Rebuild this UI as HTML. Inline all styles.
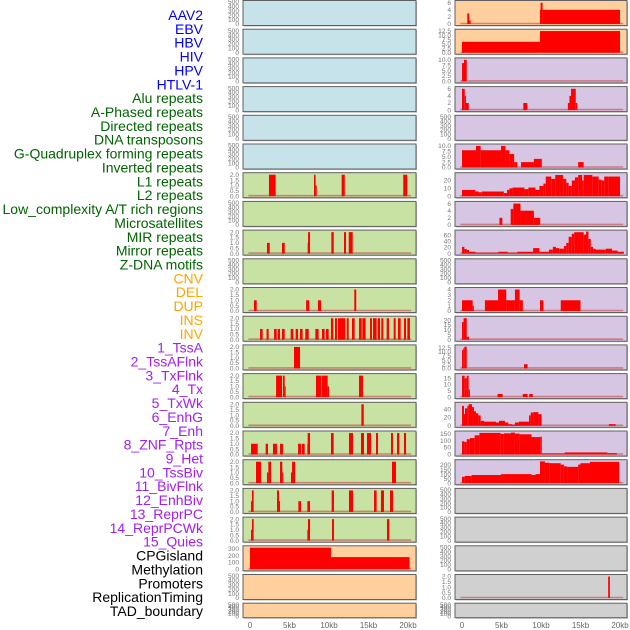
<!DOCTYPE html>
<html><head><meta charset="utf-8">
<style>
html,body{margin:0;padding:0;background:#fff;}
svg{display:block;font-family:"Liberation Sans",sans-serif;}
</style></head>
<body>
<svg id="chart" width="630" height="630" viewBox="0 0 630 630"></svg>
<script>
const trackLabels=["AAV2","EBV","HBV","HIV","HPV","HTLV-1","Alu repeats","A-Phased repeats","Directed repeats","DNA transposons","G-Quadruplex forming repeats","Inverted repeats","L1 repeats","L2 repeats","Low_complexity A/T rich regions","Microsatellites","MIR repeats","Mirror repeats","Z-DNA motifs","CNV","DEL","DUP","INS","INV","1_TssA","2_TssAFlnk","3_TxFlnk","4_Tx","5_TxWk","6_EnhG","7_Enh","8_ZNF_Rpts","9_Het","10_TssBiv","11_BivFlnk","12_EnhBiv","13_ReprPC","14_ReprPCWk","15_Quies","CPGisland","Methylation","Promoters","ReplicationTiming","TAD_boundary"];
const labelGroups=[6,13,5,15,5];
const groupColors=["#0000ff","#006400","#ffa500","#a020f0","#000000"];

const T500=["0","100","200","300","400","500"];
const T2=["0.0","0.5","1.0","1.5","2.0"];
const leftBg=["#c6e3ea","#c6e3ea","#c6e3ea","#c6e3ea","#c6e3ea","#c6e3ea","#c8e2a4","#c8e2a4","#c8e2a4","#c8e2a4","#c8e2a4","#c8e2a4","#c8e2a4","#c8e2a4","#c8e2a4","#c8e2a4","#c8e2a4","#c8e2a4","#c8e2a4","#ffd09e","#ffd09e","#ffd09e"];
const rightBg=["#ffd09e","#ffd09e","#d6c6e3","#d6c6e3","#d6c6e3","#d6c6e3","#d6c6e3","#d6c6e3","#d6c6e3","#d6c6e3","#d6c6e3","#d6c6e3","#d6c6e3","#d6c6e3","#d6c6e3","#d6c6e3","#d6c6e3","#d0d0d0","#d0d0d0","#d0d0d0","#d0d0d0","#d0d0d0"];
const leftYMax=[500,500,500,500,500,500,2.05,500,2.05,500,2.05,2.05,2.05,2.05,2.05,2.05,2.05,2.05,2.05,325,500,500];
const leftTicks=[T500,T500,T500,T500,T500,T500,T2,T500,T2,T500,T2,T2,T2,T2,T2,T2,T2,T2,T2,["0","100","200","300"],T500,T500];
const rightYMax=[6.2,12.7,10.2,6.2,500,10.2,28,6.2,72,500,4.1,22.5,13.2,17.5,53,158,242,500,500,500,2.05,500];
const rightTicks=[["0","2","4","6"],["0.0","2.5","5.0","7.5","10.0","12.5"],["0.0","2.5","5.0","7.5","10.0"],["0","2","4","6"],T500,["0.0","2.5","5.0","7.5","10.0"],["0","10","20"],["0","2","4","6"],["0","20","40","60"],T500,["0","1","2","3","4"],["0","5","10","15","20"],["0.0","2.5","5.0","7.5","10.0","12.5"],["0","5","10","15"],["0","20","40"],["0","50","100","150"],["0","50","100","150","200"],T500,T500,T500,T2,T500];

// segments: [startKb, endKb, value]
const leftSeries=[[],[],[],[],[],[],
 [[2.4,3.25,2],[8.1,8.3,2],[8.3,8.45,1],[11.6,12.0,2],[19.4,19.9,2]],
 [],
 [[2.15,2.5,1],[4.05,4.4,1],[7.3,7.35,1],[7.35,7.6,2],[10.3,10.6,2],[11.9,12.15,2],[12.5,13.0,2]],
 [],
 [[0.5,0.85,1],[7.1,7.5,1],[8.6,9.0,1],[13.2,13.45,2]],
 [[1.27,1.6,1],[2.1,2.36,1],[3.04,3.38,1],[3.5,3.8,1],[4.05,4.39,1],[5.15,5.49,1],[5.78,6.08,1],[6.33,6.66,1],[7.0,7.43,1],[8.27,8.69,1],[9.11,9.45,1],[9.62,9.96,1],[10.25,10.55,2],[10.76,11.01,2],[11.14,12.07,2],[12.24,12.49,2],[12.91,13.25,2],[13.8,14.14,2],[14.22,14.64,2],[15.19,15.44,2],[15.57,16.03,2],[16.16,16.46,2],[16.62,16.88,2],[17.3,17.59,2],[18.19,18.44,2],[18.73,19.07,2],[19.49,19.75,2],[19.92,20.25,2]],
 [[5.57,6.33,2]],
 [[3.3,4.05,2],[4.17,4.39,2],[4.39,4.51,1],[8.35,9.0,2],[9.07,9.83,2],[9.83,10.0,1],[13.8,14.3,2]],
 [[14.1,14.4,2]],
 [[0.13,0.97,1],[1.98,2.28,1],[2.91,3.42,1],[3.8,4.17,1],[6.08,6.46,1],[6.58,6.92,1],[7.26,7.55,1],[7.3,7.6,2],[10.25,10.59,2],[12.53,13.04,2],[14.05,14.43,2],[14.81,15.32,2],[15.95,16.2,2],[17.85,18.1,2],[18.61,18.9,2],[19.49,19.75,2]],
 [[0.76,1.39,2],[2.15,2.32,1],[2.32,2.66,2],[3.8,4.09,2],[4.09,4.17,1],[5.19,5.32,1],[5.32,5.7,2],[17.97,18.48,2]],
 [[0.13,0.25,1],[0.25,0.46,2],[3.42,3.67,2],[3.67,3.8,1],[6.12,6.46,1],[7.26,7.6,1],[10.34,10.63,2],[12.53,13.04,2],[15.7,16.03,2],[16.58,16.96,2],[17.72,18.1,2]],
 [[0.13,0.25,1],[0.25,0.46,2],[7.26,7.34,1],[7.34,7.6,2],[10.38,10.63,2],[17.34,17.64,2]],
 [[0,10.25,320],[10.25,20.2,180]],
 [],[]];
const rightSeries=[
 [[0.67,0.92,3],[0.92,1.1,1],[9.87,9.95,4],[9.95,10.2,6],[10.2,20,4]],
 [[0,9.87,6.3],[9.87,20,12.5]],
 [[0,0.25,8.5],[0.25,0.6,10]],
 [[0,0.35,6],[0.35,0.5,4],[0.5,0.85,2],[7.76,8.27,2],[13.4,13.6,2],[13.6,13.8,4],[13.8,14.4,6],[14.4,14.6,2]],
 [],
 [[0,1.77,8],[1.77,2.36,10],[2.36,4.94,8],[4.94,5.5,10],[5.5,6.0,8],[6.0,6.6,6.3],[6.6,7.0,2.5],[7.47,9.1,2.5],[9.1,10.1,4],[14.7,15.4,2.5]],
 [[0,1.7,8],[1.7,2.1,6],[2.1,2.5,5],[2.5,5.3,6],[5.3,5.7,4],[5.7,6.0,8],[6.0,6.4,10],[6.4,7.9,11],[7.9,8.4,9],[8.4,9.3,11],[9.3,9.8,8],[9.8,10.3,13],[10.3,10.6,16],[10.6,11.3,25],[11.3,11.8,22],[11.8,12.8,27],[12.8,13.2,22],[13.2,13.5,17],[13.5,13.9,13],[13.9,14.3,20],[14.3,14.7,24],[14.7,15.2,27],[15.2,15.4,20],[15.4,16.5,27],[16.5,17.3,25],[17.3,17.7,21],[17.7,18.0,20],[18.0,18.5,25],[18.5,20.0,25]],
 [[4.74,5.1,2],[6.16,6.5,4.5],[6.5,7.4,6],[7.4,9.1,4],[9.1,9.9,2]],
 [[0,0.3,22],[0.3,0.6,15],[0.6,0.9,12],[0.9,1.7,6],[1.7,4.6,3],[4.6,5.8,6],[5.8,7.0,3],[7.0,9.0,6],[9.0,9.8,18],[9.8,11.0,6],[11.0,11.5,13],[11.5,11.9,22],[11.9,12.3,18],[12.3,12.9,16],[12.9,13.2,25],[13.2,13.5,35],[13.5,13.9,55],[13.9,14.2,65],[14.2,15.4,70],[15.4,15.7,62],[15.7,16.0,72],[16.0,16.3,48],[16.3,16.6,22],[16.6,16.9,16],[16.9,18.2,13],[18.2,19.0,16],[19.0,19.7,10],[19.7,20.5,6]],
 [],
 [[0,1.35,2],[1.35,1.5,1],[2.9,4.56,2],[4.56,5.6,4],[5.6,6.7,2],[6.7,7.3,4],[7.3,7.7,2],[9.87,10.3,2],[12.5,15.0,2]],
 [[0,0.2,18],[0.2,0.6,22],[0.6,0.9,3]],
 [[0,0.15,11],[0.15,0.3,12],[0.3,0.6,13],[7.85,8.3,2.5]],
 [[0,0.34,17],[0.34,0.6,15],[0.6,0.84,17],[0.84,1.0,6],[4.5,5.15,2.5],[7.7,8.3,2.5],[8.5,8.95,2.5]],
 [[0,0.25,48],[0.25,0.38,28],[0.38,0.68,42],[0.68,0.84,48],[0.84,1.27,52],[1.27,1.52,45],[1.52,1.77,35],[1.77,2.07,30],[2.07,2.36,25],[2.36,2.78,12],[2.78,4.3,10],[4.3,4.68,8],[4.68,5.44,12],[5.44,5.86,8],[5.86,6.33,4],[6.33,6.7,3],[6.7,7.2,8],[7.2,8.48,10],[8.48,8.7,25],[8.7,9.03,32],[9.03,9.66,33],[9.66,10.08,28],[18.6,19.45,4]],
 [[0,0.3,95],[0.3,0.6,90],[0.6,1.0,110],[1.0,1.6,118],[1.6,2.2,138],[2.2,4.9,155],[4.9,5.3,148],[5.3,6.2,152],[6.2,6.7,157],[6.7,7.3,150],[7.3,8.8,145],[8.8,9.9,125],[9.9,10.1,128],[10.1,13.0,8],[13.0,18.4,15],[18.4,19.6,10]],
 [[0,0.34,70],[0.34,1.22,80],[1.22,4.94,90],[4.94,8.8,100],[8.8,9.3,90],[9.3,9.87,100],[9.87,10.5,240],[10.5,11.1,225],[11.1,12.5,220],[12.5,12.9,205],[12.9,13.3,185],[13.3,14.7,180],[14.7,15.0,205],[15.0,16.2,220],[16.2,19.9,235]],
 [],[],[],
 [[18.5,18.72,2]],
 []];

const svg=document.getElementById('chart');
const NS='http://www.w3.org/2000/svg';
function mk(tag,attrs,parent){const e=document.createElementNS(NS,tag);for(const k in attrs)e.setAttribute(k,attrs[k]);(parent||svg).appendChild(e);return e;}
const PITCH=28.7, PX_PER_KB=7.9;
function panelGeom(i){const top=i*PITCH+0.5;const h=(i===21)?14.5:25;return {top,h};}

// labels
let li=0;
labelGroups.forEach((n,g)=>{for(let k=0;k<n;k++){const t=mk('text',{x:203,y:15+li*13.86+5,'text-anchor':'end','font-size':'14',fill:groupColors[g]});


t.textContent=trackLabels[li];li++;}});

function drawColumn(side,px0,left,right,bgs,ymaxs,ticks,series){
 for(let i=0;i<22;i++){
  const {top,h}=panelGeom(i);
  const g=mk('g',{});
  
  
  mk('rect',{x:left+1,y:top+1,width:right-left,height:h,fill:'#bbb'},g);
  mk('rect',{x:left,y:top,width:right-left,height:h,fill:bgs[i],stroke:'#606060','stroke-width':1},g);
  const ymax=ymaxs[i];const tk=ticks[i];
  const base=top+h-1.5, span=h-3;
  const yOf=v=>base-(v/ymax)*span;
  tk.forEach(s=>{const v=parseFloat(s);const t=mk('text',{x:left-4,y:yOf(v)+2.2,'text-anchor':'end','font-size':'6.6',fill:'#777'},g);
   
   
   t.textContent=s;});
  const segs=series[i];
  if(segs.length){
   const bl=mk('line',{x1:px0-0.2*PX_PER_KB,x2:px0+20.4*PX_PER_KB,y1:base-0.5,y2:base-0.5,stroke:'rgba(200,70,70,0.6)','stroke-width':1.6},g);
   
   
   segs.forEach(s=>{const x1=px0+s[0]*PX_PER_KB,x2=px0+s[1]*PX_PER_KB;const y=yOf(s[2]);
    const r=mk('rect',{x:x1,y:y,width:Math.max(1,x2-x1),height:base-y,fill:'#ff0000'},g);
    
    });
  }
 }
 const xt=["0","5kb","10kb","15kb","20kb"];
 xt.forEach((s,k)=>{const t=mk('text',{x:px0+k*5*PX_PER_KB,y:628,'text-anchor':'middle','font-size':'8',fill:'#666'});
  
  
  t.textContent=s;});
}
drawColumn('left',250,243,416,leftBg,leftYMax,leftTicks,leftSeries);
drawColumn('right',462,455,627,rightBg,rightYMax,rightTicks,rightSeries);
</script>
</body></html>
